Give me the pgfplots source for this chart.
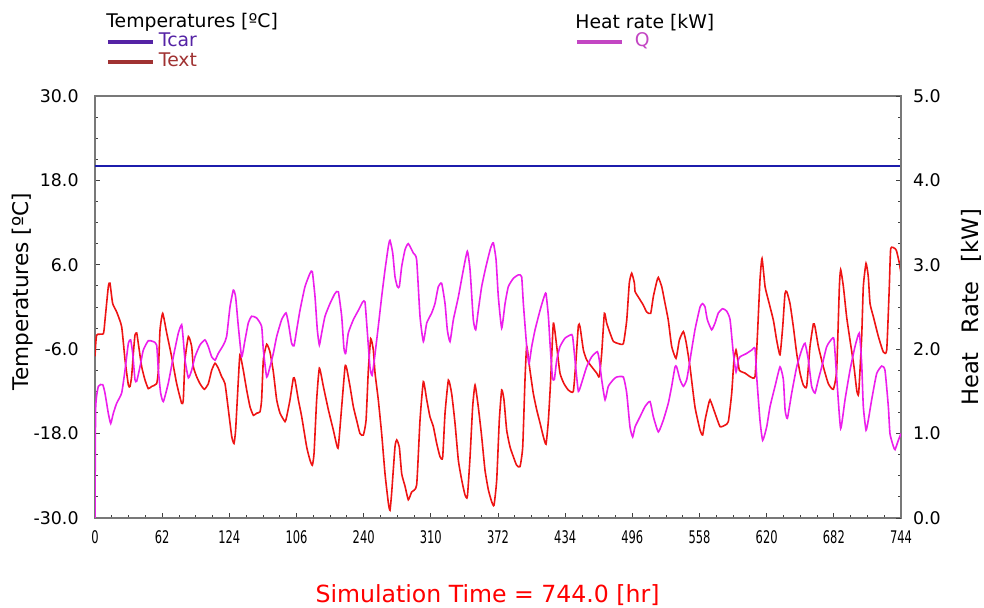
\documentclass[border=0pt]{standalone}
\usepackage{pgfplots}
\pgfplotsset{compat=1.18}
\usepackage{fontspec}
\setmainfont{DejaVu Sans}

\definecolor{tcarline}{RGB}{28,28,172}
\definecolor{textline}{RGB}{238,20,20}
\definecolor{qline}{RGB}{236,30,236}
\definecolor{legTcar}{RGB}{85,35,165}
\definecolor{legText}{RGB}{160,50,50}
\definecolor{legQ}{RGB}{195,70,195}
\definecolor{frame}{RGB}{120,120,120}

\newcommand\tickfont{\fontsize{8.7}{10}\selectfont}
\newcommand\legfont{\fontsize{9.4}{11}\selectfont}
\newcommand\labfont{\fontsize{10.8}{13}\selectfont}

\pgfplotsset{
  common/.style={
    at={(47.5pt,45pt)}, anchor=south west,
    scale only axis, width=403pt, height=211pt,
    xmin=0, xmax=744,
    tick align=inside,
    major tick length=2.5pt, minor tick length=1.5pt,
    tick style={black!75, line width=0.4pt},
    axis line style={frame, line width=0.6pt},
    /pgf/number format/assume math mode=true,
    ticklabel style={font=\tickfont},
    legend style={draw=none, fill=none, inner sep=0pt, outer sep=0pt,
      font=\legfont, row sep=1pt,
      nodes={inner sep=0pt, text height=7pt, text depth=2pt}},
    legend cell align=left,
    legend image code/.code={\draw[##1, line width=2pt] (0pt,0pt) -- (22.5pt,0pt);},
  },
  onedec/.style={
    yticklabel style={/pgf/number format/fixed, /pgf/number format/fixed zerofill,
      /pgf/number format/precision=1},
  },
}

\begin{document}
\begin{tikzpicture}
\useasboundingbox (0,0) rectangle (492pt,304pt);

% left axis: temperatures
\begin{axis}[common, onedec,
  ymin=-30, ymax=30,
  tick pos=left,
  xtick={0,62,...,744},
  xticklabels={0,62,124,106,240,310,372,434,496,558,620,682,744},
  minor x tick num=3,
  ytick={-30,-18,...,30},
  minor y tick num=3,
  yticklabel style={inner sep=0pt, xshift=-8pt},
  xticklabel style={inner sep=0pt, yshift=-6pt, xscale=0.66},
  ylabel={Temperatures [ºC]},
  every axis y label/.style={at={(axis description cs:-0.0903,0.536)}, anchor=center, rotate=90, font=\labfont},
  xlabel={Simulation Time = 744.0 [hr]},
  every axis x label/.style={at={(axis description cs:0.487,-0.183)}, anchor=center, font=\fontsize{11.8}{14}\selectfont, text=red},
  legend style={at={(axis description cs:0.0136,1.15)}, anchor=north west,
    /tikz/every odd column/.append style={column sep=2pt}},
]
\addlegendimage{color=legTcar}
\addlegendentry{\textcolor{legTcar}{Tcar}}
\addlegendimage{color=legText}
\addlegendentry{\textcolor{legText}{Text}}

\addplot[forget plot, tcarline, line width=1pt] coordinates {(0,20.0) (744,20.0)};

\addplot[forget plot, textline, line width=0.8pt, smooth, tension=0.3] coordinates {
(0,-7.0) (1.5,-4.0) (7.7,-3.8) (9.2,-1.9) (12.3,2.9) (13.8,3.4) (16.3,0.5) (20.0,-0.7)
(24.6,-2.8) (27.7,-7.5) (30.8,-11.1) (32.3,-11.3) (33.8,-9.9) (35.4,-6.6) (36.9,-4.0)
(38.5,-3.7) (40.0,-5.2) (43.1,-8.5) (46.2,-10.4) (49.2,-11.6) (52.3,-11.3) (56.9,-10.9)
(58.5,-9.0) (60.0,-3.3) (62.5,-0.9) (66.2,-3.7) (70.8,-7.1) (75.4,-10.9) (80.0,-13.7)
(81.5,-13.2) (83.1,-7.5) (86.2,-4.2) (89.2,-5.6) (90.8,-8.5) (93.8,-9.9) (96.9,-10.9)
(100.9,-11.7) (104.6,-10.9) (107.7,-9.0) (110.8,-8.0) (113.8,-8.7) (116.9,-9.9)
(120.0,-10.9) (123.1,-14.6) (126.2,-18.4) (128.3,-19.4) (129.8,-17.5) (132.3,-10.4)
(133.8,-6.8) (136.9,-9.0) (140.0,-11.8) (143.1,-14.2) (146.2,-15.4) (149.2,-15.1)
(152.3,-14.9) (153.8,-13.2) (155.4,-7.5) (158.5,-5.3) (161.5,-6.4) (164.6,-9.2)
(167.7,-13.2) (170.8,-15.1) (175.4,-16.3) (176.9,-15.6) (180.0,-13.2) (183.1,-10.1)
(184.6,-10.4) (187.7,-13.2) (190.8,-15.6) (195.4,-19.9) (198.5,-21.8) (200.6,-22.5)
(202.2,-20.8) (204.6,-13.2) (207.1,-8.7) (210.8,-11.3) (215.4,-14.6) (220.0,-17.5)
(223.1,-19.6) (224.6,-19.9) (227.7,-14.2) (230.8,-8.5) (232.3,-8.7) (235.4,-11.3)
(238.5,-14.2) (241.5,-16.1) (244.6,-18.0) (247.7,-18.2) (250.2,-16.1) (252.3,-9.0)
(254.5,-4.5) (256.9,-6.1) (258.5,-9.4) (261.5,-13.2) (264.6,-18.0) (267.7,-23.7)
(270.8,-27.9) (272.3,-28.9) (273.8,-26.5) (276.9,-19.9) (278.5,-18.9) (280.9,-19.9)
(283.1,-23.7) (286.2,-25.5) (289.2,-27.4) (292.3,-26.3) (296.9,-25.3) (300.0,-16.1)
(303.1,-10.6) (306.2,-13.2) (309.2,-15.6) (312.3,-17.0) (315.4,-19.4) (318.5,-21.3)
(320.9,-21.4) (323.1,-15.1) (326.2,-10.4) (329.2,-12.3) (332.3,-16.5) (335.4,-21.8)
(338.5,-24.6) (341.5,-26.7) (343.7,-27.0) (346.2,-21.3) (348.6,-14.2) (350.8,-11.1)
(353.8,-14.2) (356.9,-18.4) (360.0,-23.2) (363.1,-26.0) (366.2,-27.7) (368.3,-28.2)
(370.8,-24.6) (373.2,-16.1) (375.4,-11.8) (377.5,-13.2) (380.0,-17.5) (383.1,-19.9)
(386.2,-21.3) (389.2,-22.5) (392.3,-22.7) (394.8,-19.9) (396.9,-10.4) (398.5,-5.6)
(401.5,-9.0) (404.6,-12.3) (407.7,-14.6) (410.8,-16.5) (413.8,-18.4) (416.3,-19.5)
(418.5,-16.1) (420.6,-10.4) (423.1,-2.3) (426.2,-5.6) (429.2,-9.4) (432.9,-10.9)
(436.9,-11.8) (441.5,-12.0) (444.0,-7.5) (446.2,-2.6) (447.7,-2.8) (450.8,-6.1)
(453.8,-7.5) (458.5,-8.5) (463.1,-9.4) (465.5,-9.9) (467.7,-6.6) (470.2,-0.9)
(472.3,-2.3) (475.4,-3.7) (478.5,-4.9) (483.1,-5.2) (487.7,-5.2) (490.8,-1.9)
(493.2,3.4) (495.4,4.8) (497.9,3.4) (498.5,2.2) (502.0,1.3) (506.0,0.3) (509.2,-0.7)
(512.9,-0.9) (515.4,1.5) (518.5,3.6) (520.0,4.2) (523.1,2.9) (526.2,0.5) (529.2,-1.9)
(532.3,-5.6) (536.3,-7.3) (539.4,-4.7) (543.1,-3.5) (545.5,-4.9) (549.2,-8.5)
(553.8,-14.2) (558.5,-17.5) (560.9,-18.2) (563.1,-16.1) (565.2,-14.6) (567.7,-13.2)
(572.3,-15.1) (576.9,-17.0) (581.5,-16.8) (584.6,-16.3) (587.7,-12.3) (589.8,-7.5)
(591.7,-6.1) (592.9,-7.1) (594.8,-9.0) (600.0,-9.4) (604.6,-9.9) (609.2,-9.9)
(611.4,-4.2) (613.8,3.8) (615.7,6.9) (618.5,2.9) (621.5,1.0) (626.2,-1.9) (629.2,-4.7)
(632.3,-6.8) (634.8,-2.8) (636.9,1.9) (638.5,2.2) (641.5,0.5) (644.6,-2.8) (647.7,-6.6)
(650.8,-9.4) (653.8,-11.1) (656.9,-11.3) (660.0,-5.6) (663.1,-2.4) (664.6,-2.8)
(667.7,-5.6) (672.3,-8.5) (676.9,-10.9) (681.5,-11.7) (684.6,-9.0) (687.1,2.9)
(688.3,5.3) (690.8,2.9) (693.8,-1.4) (696.9,-4.7) (700.6,-8.5) (703.1,-11.8)
(704.9,-12.3) (707.7,-4.2) (709.2,2.9) (711.7,6.2) (713.8,4.3) (715.4,0.5)
(718.5,-1.4) (723.1,-4.2) (727.7,-6.4) (730.8,-6.1) (733.2,2.9) (734.5,8.3)
(738.5,8.3) (740.0,7.9) (742.5,6.2) (744,4.8)
};
\end{axis}

% right axis: heat rate
\begin{axis}[common, onedec,
  ymin=0, ymax=5,
  axis x line=none,
  axis y line*=right,
  ytick={0,1,...,5},
  minor y tick num=3,
  yticklabel style={inner sep=0pt, xshift=5.8pt},
  ylabel={Heat\hspace{6pt} Rate\hspace{6pt} [kW]},
  every axis y label/.style={at={(axis description cs:1.0875,0.499)}, anchor=center, rotate=90, font=\fontsize{11.3}{13}\selectfont},
  legend style={at={(axis description cs:0.5955,1.15)}, anchor=north west,
    /tikz/every odd column/.append style={column sep=5.5pt}},
]
\addlegendimage{color=legQ}
\addlegendentry{\textcolor{legQ}{Q}}

\addplot[forget plot, qline, line width=0.8pt, smooth, tension=0.3] coordinates {
(0,0) (0.6,1.30) (3.1,1.56) (7.1,1.58) (9.2,1.48) (12.3,1.24) (14.5,1.12) (16.9,1.24)
(20.0,1.36) (24.6,1.48) (27.7,1.75) (30.8,2.07) (32.9,2.11) (34.8,1.95) (36.9,1.64)
(38.5,1.62) (41.5,1.79) (44.6,1.99) (49.2,2.10) (53.8,2.09) (56.9,2.05) (58.5,1.75)
(60.6,1.48) (63.1,1.38) (67.7,1.60) (72.3,1.91) (76.9,2.19) (80.0,2.29) (81.5,2.11)
(83.1,1.87) (86.2,1.66) (89.2,1.75) (92.3,1.91) (96.9,2.05) (101.5,2.11) (104.6,2.03)
(107.7,1.91) (110.8,1.87) (113.8,1.95) (118.5,2.05) (121.5,2.15) (124.6,2.50)
(127.7,2.70) (129.8,2.62) (132.3,2.27) (135.4,1.91) (138.5,2.11) (141.5,2.31)
(144.6,2.39) (149.2,2.37) (153.8,2.27) (155.4,1.99) (158.5,1.67) (161.5,1.79)
(164.6,1.95) (167.7,2.15) (172.3,2.35) (176.3,2.43) (178.5,2.31) (181.5,2.07)
(183.7,2.04) (186.2,2.23) (189.2,2.46) (193.8,2.74) (198.5,2.90) (200.6,2.92)
(203.1,2.62) (205.2,2.23) (207.1,2.05) (209.2,2.19) (212.3,2.39) (216.9,2.54)
(221.5,2.66) (224.6,2.68) (227.7,2.39) (229.8,2.01) (231.4,1.95) (233.8,2.19)
(238.5,2.35) (243.1,2.46) (247.1,2.56) (249.2,2.56) (251.0,2.27) (253.8,1.79)
(255.7,1.69) (257.8,1.87) (261.5,2.27) (264.6,2.62) (267.7,2.94) (270.8,3.22)
(272.3,3.29) (274.8,3.14) (276.9,2.86) (279.1,2.74) (280.9,2.74) (283.1,2.98)
(286.2,3.18) (289.2,3.25) (293.8,3.14) (296.9,3.06) (300.0,2.39) (303.1,2.09)
(306.2,2.31) (310.8,2.43) (313.8,2.54) (316.9,2.74) (320.0,2.78) (323.1,2.54)
(325.2,2.23) (327.7,2.09) (330.8,2.35) (335.4,2.62) (340.0,2.94) (343.7,3.16)
(346.2,2.94) (349.2,2.35) (351.4,2.23) (353.8,2.46) (356.9,2.74) (360.9,2.98)
(365.2,3.20) (367.7,3.26) (370.2,3.06) (372.3,2.62) (375.4,2.25) (378.5,2.54)
(381.5,2.74) (386.2,2.84) (390.8,2.88) (393.8,2.86) (395.4,2.54) (398.5,2.03)
(400.6,1.83) (403.1,2.03) (406.2,2.23) (410.8,2.46) (414.5,2.62) (416.3,2.66)
(418.5,2.39) (420.0,2.07) (422.2,1.67) (424.0,1.64) (426.2,1.87) (429.2,2.03)
(433.8,2.13) (439.1,2.17) (440.9,2.15) (444.0,1.75) (446.2,1.50) (449.2,1.60)
(453.8,1.79) (458.5,1.91) (463.7,1.97) (465.5,1.87) (467.7,1.64) (470.8,1.40)
(473.8,1.56) (478.5,1.64) (481.5,1.67) (487.7,1.67) (490.8,1.48) (493.8,1.08)
(496.3,0.96) (498.5,1.08) (503.1,1.20) (507.7,1.32) (512.3,1.38) (515.4,1.20)
(520.0,1.02) (524.6,1.16) (529.2,1.36) (532.3,1.56) (535.4,1.79) (536.9,1.79)
(540.0,1.64) (543.1,1.56) (546.2,1.64) (549.2,1.87) (553.8,2.23) (558.5,2.50)
(560.9,2.54) (563.1,2.50) (565.2,2.35) (569.2,2.23) (572.3,2.31) (575.4,2.43)
(579.4,2.48) (583.1,2.45) (586.2,2.35) (589.2,1.95) (591.7,1.73) (593.8,1.87)
(595.4,1.91) (601.5,1.95) (606.2,1.99) (609.2,2.01) (610.8,1.67) (613.8,1.16)
(616.3,0.92) (620.0,1.08) (623.1,1.32) (627.7,1.56) (632.3,1.79) (635.4,1.64)
(637.0,1.28) (639.1,1.18) (643.1,1.48) (647.7,1.79) (652.3,1.99) (655.4,2.07)
(658.5,1.87) (661.5,1.56) (664.6,1.48) (667.7,1.64) (670.8,1.79) (675.4,2.03)
(680.0,2.12) (682.2,2.11) (685.2,1.56) (688.3,1.06) (692.3,1.40) (696.9,1.75)
(701.5,2.03) (705.5,2.19) (707.7,1.83) (709.2,1.32) (711.7,1.04) (713.8,1.16)
(716.9,1.40) (721.5,1.71) (726.2,1.80) (729.2,1.75) (732.3,1.32) (733.8,1.00)
(736.9,0.85) (738.5,0.81) (741.5,0.92) (744,1.00)
};
\end{axis}

\node[anchor=west, inner sep=0pt, font=\legfont] at (53pt,292.7pt) {Temperatures [ºC]};
\node[anchor=west, inner sep=0pt, font=\legfont] at (287.5pt,292.7pt) {Heat rate [kW]};
\end{tikzpicture}
\end{document}
